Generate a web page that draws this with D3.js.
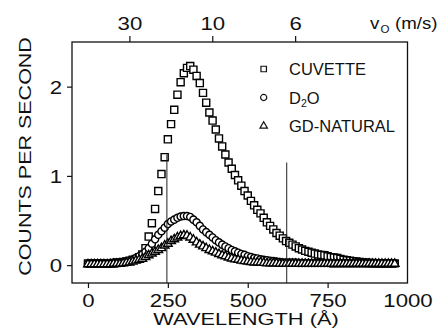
<!DOCTYPE html>
<html>
<head>
<meta charset="utf-8">
<script src="https://cdn.jsdelivr.net/npm/d3@7"></script>
<style>
  body { margin: 0; background: #fff; }
  text { font-family: "Liberation Sans", Arial, sans-serif; fill: #111; }
</style>
</head>
<body>
<svg id="chart" width="448" height="334"></svg>
<script>
// wavelength bins (Å)
const wavelengths = [
  0, 10, 20, 30, 40, 50, 60, 70, 80, 90,
  100, 110, 120, 130, 140, 150, 160, 170, 180, 190,
  200, 210, 220, 230, 240, 250, 260, 270, 280, 290,
  300, 310, 320, 330, 340, 350, 360, 370, 380, 390,
  400, 410, 420, 430, 440, 450, 460, 470, 480, 490,
  500, 510, 520, 530, 540, 550, 560, 570, 580, 590,
  600, 610, 620, 630, 640, 650, 660, 670, 680, 690,
  700, 710, 720, 730, 740, 750, 760, 770, 780, 790,
  800, 810, 820, 830, 840, 850, 860, 870, 880, 890,
  900, 910, 920, 930, 940, 950, 960
];

// counts per second
const cuvette = [
  0.02, 0.02, 0.02, 0.02, 0.02, 0.02, 0.02, 0.02, 0.025, 0.03,
  0.03, 0.035, 0.04, 0.05, 0.06, 0.07, 0.09, 0.12, 0.19, 0.32,
  0.47, 0.63, 0.83, 1.02, 1.21, 1.41, 1.58, 1.74, 1.91, 2.05,
  2.15, 2.21, 2.23, 2.19, 2.12, 2.04, 1.93, 1.82, 1.71, 1.62,
  1.52, 1.42, 1.33, 1.24, 1.15, 1.08, 1.01, 0.95, 0.89, 0.83,
  0.78, 0.72, 0.67, 0.62, 0.58, 0.53, 0.48, 0.44, 0.40, 0.36,
  0.33, 0.30, 0.27, 0.25, 0.23, 0.21, 0.19, 0.175, 0.16, 0.15,
  0.14, 0.13, 0.12, 0.115, 0.11, 0.10, 0.09, 0.085, 0.08, 0.07,
  0.06, 0.055, 0.05, 0.045, 0.04, 0.035, 0.03, 0.03, 0.025, 0.025,
  0.02, 0.02, 0.02, 0.02, 0.02, 0.02, 0.02
];

const d2o = [
  0.015, 0.015, 0.015, 0.015, 0.015, 0.015, 0.015, 0.015, 0.02, 0.02,
  0.025, 0.03, 0.04, 0.05, 0.06, 0.08, 0.10, 0.12, 0.15, 0.19,
  0.24, 0.29, 0.34, 0.38, 0.42, 0.46, 0.49, 0.51, 0.53, 0.545,
  0.55, 0.55, 0.54, 0.51, 0.48, 0.44, 0.40, 0.37, 0.34, 0.31,
  0.28, 0.255, 0.23, 0.21, 0.19, 0.17, 0.155, 0.14, 0.125, 0.115,
  0.10, 0.09, 0.08, 0.075, 0.065, 0.06, 0.055, 0.05, 0.045, 0.04,
  0.035, 0.03, 0.03, 0.03, 0.03, 0.03, 0.025, 0.025, 0.025, 0.025,
  0.025, 0.025, 0.025, 0.025, 0.025, 0.025, 0.02, 0.02, 0.02, 0.02,
  0.02, 0.02, 0.02, 0.02, 0.02, 0.02, 0.02, 0.02, 0.02, 0.02,
  0.02, 0.02, 0.02, 0.02, 0.02, 0.02, 0.02
];

const gdNatural = [
  0.01, 0.01, 0.01, 0.01, 0.01, 0.01, 0.01, 0.01, 0.015, 0.015,
  0.015, 0.02, 0.025, 0.03, 0.04, 0.05, 0.06, 0.07, 0.09, 0.11,
  0.13, 0.15, 0.17, 0.19, 0.22, 0.24, 0.27, 0.29, 0.31, 0.325,
  0.335, 0.33, 0.31, 0.285, 0.255, 0.23, 0.21, 0.19, 0.17, 0.155,
  0.14, 0.125, 0.11, 0.10, 0.085, 0.075, 0.065, 0.06, 0.05, 0.045,
  0.04, 0.035, 0.03, 0.03, 0.03, 0.025, 0.02, 0.02, 0.02, 0.02,
  0.015, 0.015, 0.015, 0.015, 0.015, 0.015, 0.015, 0.015, 0.015, 0.015,
  0.015, 0.015, 0.015, 0.015, 0.015, 0.015, 0.015, 0.015, 0.015, 0.015,
  0.015, 0.015, 0.015, 0.015, 0.015, 0.015, 0.015, 0.015, 0.015, 0.015,
  0.015, 0.015, 0.015, 0.015, 0.015, 0.015, 0.015
];

const xTicks = [0, 250, 500, 750, 1000];
const yTicks = [0, 1, 2];
const velocityTicks = [30, 10, 6];   // m/s, top axis
const velocityConst = 3890;          // lambda (Å) = const / v
const cutWavelengths = [247, 622];
const cutTops = [1.24, 1.15];

const svg = d3.select('#chart');
svg.append('rect').attr('width', 448).attr('height', 334).attr('fill', '#fff');

const x = d3.scaleLinear().domain([-50, 1000]).range([72, 407.5]);
const y = d3.scaleLinear().domain([-0.2, 2.5]).range([283, 42]);

const series = [
  { values: cuvette, symbol: d3.symbolSquare, size: 50 },
  { values: d2o, symbol: d3.symbolCircle, size: 40 },
  { values: gdNatural, symbol: d3.symbolTriangle, size: 32 }
];

// data markers, drawn in legend order
const plot = svg.append('g').attr('class', 'plot');
series.forEach(s => {
  plot.append('g').selectAll('path')
    .data(wavelengths.map((w, i) => ({ w: w, v: s.values[i] })))
    .enter().append('path')
    .attr('transform', d => `translate(${x(d.w)},${y(d.v)})`)
    .attr('d', d3.symbol().type(s.symbol).size(s.size))
    .attr('fill', '#fff').attr('stroke', '#000').attr('stroke-width', 1.4);
});

// thin vertical marks
plot.append('g').selectAll('line')
  .data(cutWavelengths.map((w, i) => ({ w: w, top: cutTops[i] })))
  .enter().append('line')
  .attr('x1', d => x(d.w)).attr('x2', d => x(d.w))
  .attr('y1', d => y(d.top)).attr('y2', y(-0.2))
  .attr('stroke', '#222').attr('stroke-width', 1);

// frame
svg.append('rect')
  .attr('x', 72).attr('y', 42).attr('width', 335.5).attr('height', 241)
  .attr('fill', 'none').attr('stroke', '#111').attr('stroke-width', 1.3);

// bottom axis
const bottomAxis = svg.append('g').attr('transform', 'translate(0,283)')
  .call(d3.axisBottom(x).tickValues(xTicks).tickFormat(d3.format('d'))
    .tickSizeInner(5).tickSizeOuter(0));
bottomAxis.select('.domain').remove();
bottomAxis.selectAll('.tick').filter(d => d === 1000).select('line').remove();
bottomAxis.selectAll('line').attr('stroke', '#111').attr('stroke-width', 1.2);
bottomAxis.selectAll('text').attr('y', 23.7).attr('dy', 0)
  .attr('font-size', 18.5).attr('transform', 'scale(1.2,1)');

// left axis
const leftAxis = svg.append('g').attr('transform', 'translate(72,0)')
  .call(d3.axisLeft(y).tickValues(yTicks).tickFormat(d3.format('d'))
    .tickSizeInner(5).tickSizeOuter(0));
leftAxis.select('.domain').remove();
leftAxis.selectAll('line').attr('stroke', '#111').attr('stroke-width', 1.2);
leftAxis.selectAll('text').attr('x', -8.3).attr('dy', '0.36em')
  .attr('font-size', 18.5).attr('transform', 'scale(1.2,1)');

// top axis (neutron velocity)
const topAxis = svg.append('g').attr('transform', 'translate(0,42)')
  .call(d3.axisTop(x)
    .tickValues(velocityTicks.map(v => velocityConst / v))
    .tickFormat((d, i) => velocityTicks[i])
    .tickSizeInner(6).tickSizeOuter(0));
topAxis.select('.domain').remove();
topAxis.selectAll('line').attr('stroke', '#111').attr('stroke-width', 1.2);
topAxis.selectAll('text').attr('y', -12).attr('dy', 0)
  .attr('font-size', 18.5).attr('transform', 'scale(1.2,1)');

// top axis title: v_O (m/s)
svg.append('text').attr('transform', 'translate(370,29) scale(1.1,1)').attr('font-size', 17).text('v');
svg.append('text').attr('x', 380.5).attr('y', 33.3).attr('font-size', 11.5).text('O');
svg.append('text').attr('transform', 'translate(395,29) scale(1.1,1)').attr('font-size', 17).text('(m/s)');

// axis titles
svg.append('text')
  .attr('transform', 'translate(246,325) scale(1.27,1)')
  .attr('text-anchor', 'middle').attr('font-size', 17.2)
  .text('WAVELENGTH (Å)');

svg.append('text')
  .attr('transform', 'translate(30.7,156.5) rotate(-90) scale(1.25,1)')
  .attr('text-anchor', 'middle').attr('font-size', 17.2)
  .text('COUNTS PER SECOND');

// legend
const legend = svg.append('g');
series.forEach((s, i) => {
  const ly = 69 + i * 28.5;
  legend.append('path')
    .attr('transform', `translate(263.7,${ly})`)
    .attr('d', d3.symbol().type(s.symbol).size(i === 2 ? 24 : 30))
    .attr('fill', '#fff').attr('stroke', '#111').attr('stroke-width', 1.2);
});
legend.append('text').attr('x', 289).attr('y', 75).attr('font-size', 16.5).text('CUVETTE');
const d2oLabel = legend.append('text').attr('x', 289).attr('y', 103.5).attr('font-size', 16.5);
d2oLabel.append('tspan').text('D');
d2oLabel.append('tspan').attr('font-size', 10.5).attr('dy', 3).text('2');
d2oLabel.append('tspan').attr('dy', -3).text('O');
legend.append('text').attr('x', 289).attr('y', 132).attr('font-size', 16.5).text('GD-NATURAL');
</script>
</body>
</html>
